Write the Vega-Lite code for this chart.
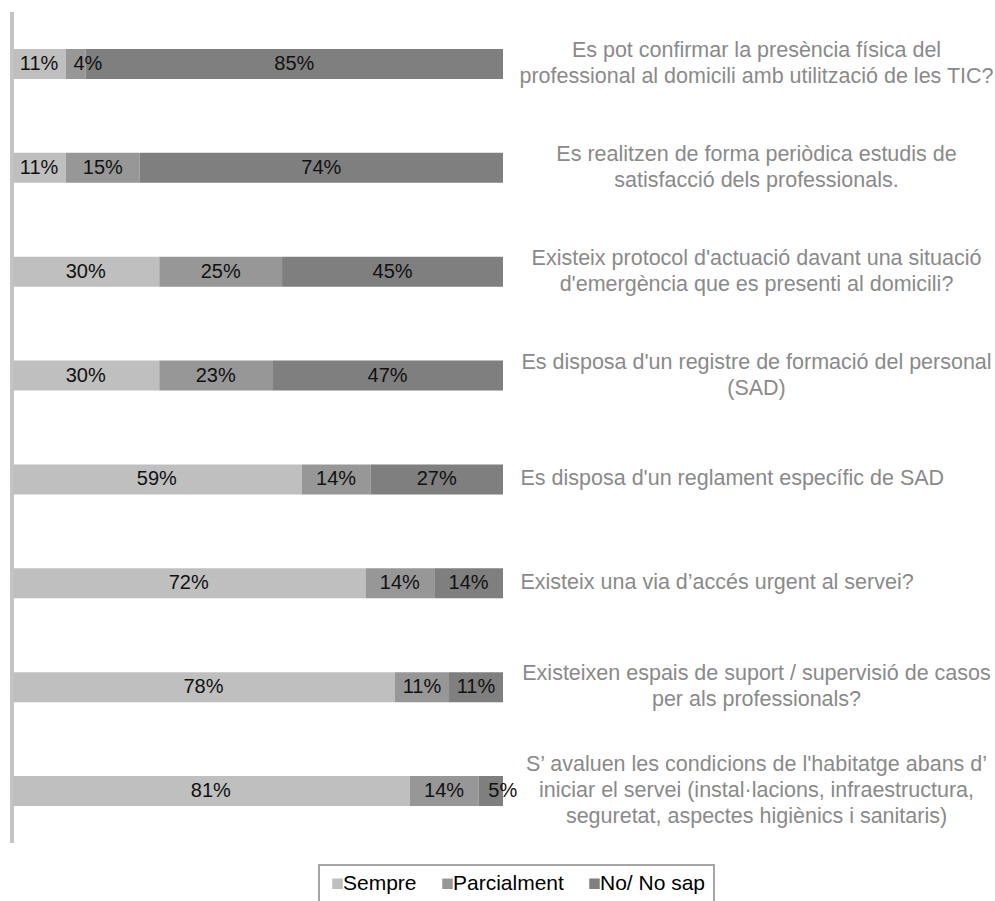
{
  "$schema": "https://vega.github.io/schema/vega-lite/v6.json",
  "width": 491,
  "height": 831,
  "autosize": {"type": "none"},
  "padding": {"left": 12, "top": 12, "right": 492, "bottom": 58},
  "background": "white",
  "config": {
    "view": {"stroke": null},
    "font": "Liberation Sans",
    "legend": {"strokeWidth": 2}
  },
  "data": {
    "values": [
      {"q": "Es pot confirmar la presència física del|professional al domicili amb utilització de les TIC?", "row": 1, "cat": "Sempre", "o": 1, "v": 0.11},
      {"q": "Es pot confirmar la presència física del|professional al domicili amb utilització de les TIC?", "row": 1, "cat": "Parcialment", "o": 2, "v": 0.04},
      {"q": "Es pot confirmar la presència física del|professional al domicili amb utilització de les TIC?", "row": 1, "cat": "No/ No sap", "o": 3, "v": 0.85},
      {"q": "Es realitzen de forma periòdica estudis de|satisfacció dels professionals.", "row": 2, "cat": "Sempre", "o": 1, "v": 0.11},
      {"q": "Es realitzen de forma periòdica estudis de|satisfacció dels professionals.", "row": 2, "cat": "Parcialment", "o": 2, "v": 0.15},
      {"q": "Es realitzen de forma periòdica estudis de|satisfacció dels professionals.", "row": 2, "cat": "No/ No sap", "o": 3, "v": 0.74},
      {"q": "Existeix protocol d'actuació davant una situació|d'emergència que es presenti al domicili?", "row": 3, "cat": "Sempre", "o": 1, "v": 0.30},
      {"q": "Existeix protocol d'actuació davant una situació|d'emergència que es presenti al domicili?", "row": 3, "cat": "Parcialment", "o": 2, "v": 0.25},
      {"q": "Existeix protocol d'actuació davant una situació|d'emergència que es presenti al domicili?", "row": 3, "cat": "No/ No sap", "o": 3, "v": 0.45},
      {"q": "Es disposa d'un registre de formació del personal|(SAD)", "row": 4, "cat": "Sempre", "o": 1, "v": 0.30},
      {"q": "Es disposa d'un registre de formació del personal|(SAD)", "row": 4, "cat": "Parcialment", "o": 2, "v": 0.23},
      {"q": "Es disposa d'un registre de formació del personal|(SAD)", "row": 4, "cat": "No/ No sap", "o": 3, "v": 0.47},
      {"q": "Es disposa d'un reglament específic de SAD", "row": 5, "cat": "Sempre", "o": 1, "v": 0.59},
      {"q": "Es disposa d'un reglament específic de SAD", "row": 5, "cat": "Parcialment", "o": 2, "v": 0.14},
      {"q": "Es disposa d'un reglament específic de SAD", "row": 5, "cat": "No/ No sap", "o": 3, "v": 0.27},
      {"q": "Existeix una via d’accés urgent al servei?", "row": 6, "cat": "Sempre", "o": 1, "v": 0.72},
      {"q": "Existeix una via d’accés urgent al servei?", "row": 6, "cat": "Parcialment", "o": 2, "v": 0.14},
      {"q": "Existeix una via d’accés urgent al servei?", "row": 6, "cat": "No/ No sap", "o": 3, "v": 0.14},
      {"q": "Existeixen espais de suport / supervisió de casos|per als professionals?", "row": 7, "cat": "Sempre", "o": 1, "v": 0.78},
      {"q": "Existeixen espais de suport / supervisió de casos|per als professionals?", "row": 7, "cat": "Parcialment", "o": 2, "v": 0.11},
      {"q": "Existeixen espais de suport / supervisió de casos|per als professionals?", "row": 7, "cat": "No/ No sap", "o": 3, "v": 0.11},
      {"q": "S’ avaluen les condicions de l'habitatge abans d’|iniciar el servei (instal·lacions, infraestructura,|seguretat, aspectes higiènics i sanitaris)", "row": 8, "cat": "Sempre", "o": 1, "v": 0.81},
      {"q": "S’ avaluen les condicions de l'habitatge abans d’|iniciar el servei (instal·lacions, infraestructura,|seguretat, aspectes higiènics i sanitaris)", "row": 8, "cat": "Parcialment", "o": 2, "v": 0.14},
      {"q": "S’ avaluen les condicions de l'habitatge abans d’|iniciar el servei (instal·lacions, infraestructura,|seguretat, aspectes higiènics i sanitaris)", "row": 8, "cat": "No/ No sap", "o": 3, "v": 0.05}
    ]
  },
  "layer": [
    {
      "mark": {"type": "bar", "stroke": null},
      "encoding": {
        "y": {
          "field": "q",
          "type": "nominal",
          "sort": {"field": "row", "op": "min", "order": "ascending"},
          "scale": {"paddingInner": 0.711, "paddingOuter": 0.356},
          "axis": {
            "orient": "right",
            "title": null,
            "domain": false,
            "ticks": false,
            "labelPadding": {"condition": {"test": "indexof(datum.value, '|') >= 0", "value": 253}, "value": 17},
            "labelAlign": {"condition": {"test": "indexof(datum.value, '|') >= 0", "value": "center"}, "value": "left"},
            "labelOffset": {"condition": [
              {"test": "length(split(datum.value, '|')) == 3", "value": -26},
              {"test": "length(split(datum.value, '|')) == 2", "value": -13}
            ], "value": 0},
            "labelBaseline": "middle",
            "labelFontSize": 21.5,
            "labelLineHeight": 26,
            "labelColor": "#8a8a8a",
            "labelFont": "Liberation Sans",
            "labelLimit": 700,
            "labelExpr": "split(datum.value, '|')"
          }
        },
        "x": {"field": "v", "type": "quantitative", "stack": "zero", "scale": {"domain": [0, 1], "nice": false, "zero": true}, "axis": null},
        "order": {"field": "o", "type": "quantitative"},
        "color": {
          "field": "cat",
          "type": "nominal",
          "scale": {"domain": ["Sempre", "Parcialment", "No/ No sap"], "range": ["#bfbfbf", "#979797", "#7f7f7f"]},
          "legend": {
            "title": null,
            "orient": "none",
            "direction": "horizontal",
            "legendX": 307,
            "legendY": 853,
            "symbolType": "square",
            "symbolSize": 110,
            "symbolStrokeWidth": 0,
            "symbolOpacity": 1,
            "labelFontSize": 21,
            "labelFont": "Liberation Sans",
            "labelColor": "#000000",
            "labelOffset": -5,
            "columnPadding": 20,
            "padding": 8,
            "strokeColor": "#a6a6a6",
            "fillColor": "#ffffff",
            "labelLimit": 300
          }
        }
      }
    },
    {
      "mark": {"type": "text", "fontSize": 20, "font": "Liberation Sans", "color": "#111111", "align": "center", "baseline": "middle"},
      "encoding": {
        "y": {"field": "q", "type": "nominal", "sort": {"field": "row", "op": "min", "order": "ascending"}},
        "x": {"field": "v", "type": "quantitative", "stack": "zero", "bandPosition": 0.5},
        "order": {"field": "o", "type": "quantitative"},
        "text": {
          "condition": {"test": "(datum.row == 1 && datum.o == 2) || (datum.row == 8 && datum.o == 3)", "value": ""},
          "field": "v", "type": "quantitative", "format": ".0%"
        },
        "detail": {"field": "cat"}
      }
    },
    {
      "mark": {"type": "text", "fontSize": 20, "font": "Liberation Sans", "color": "#111111", "align": "center", "baseline": "middle", "dx": 12},
      "encoding": {
        "y": {"field": "q", "type": "nominal", "sort": {"field": "row", "op": "min", "order": "ascending"}},
        "x": {"field": "v", "type": "quantitative", "stack": "zero", "bandPosition": 0.5},
        "order": {"field": "o", "type": "quantitative"},
        "text": {
          "condition": {"test": "(datum.row == 1 && datum.o == 2) || (datum.row == 8 && datum.o == 3)", "field": "v", "type": "quantitative", "format": ".0%"},
          "value": ""
        },
        "detail": {"field": "cat"}
      }
    },
    {
      "mark": {"type": "rule", "color": "#c4c4c4", "strokeWidth": 2.5},
      "encoding": {"x": {"datum": 0}}
    }
  ]
}
